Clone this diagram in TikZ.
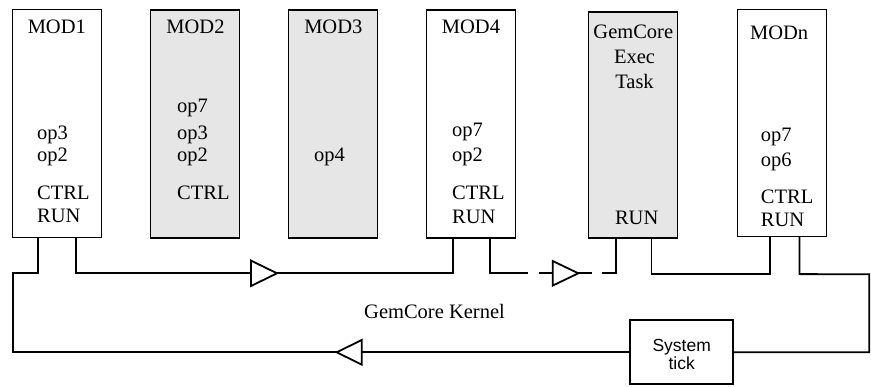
\documentclass[tikz,border=0pt]{standalone}
\usepackage{fontspec}
\setmainfont{Liberation Serif}
\newfontfamily\ticksans{Liberation Sans}
\definecolor{boxgray}{HTML}{E6E6E6}
\begin{document}
\begin{tikzpicture}[x=1pt,y=-1pt,
  wire/.style={line width=1.8pt,line join=miter},
  modbox/.style={draw,line width=1.8pt,minimum width=89pt,minimum height=228pt,anchor=north west,inner sep=0pt,outer sep=0pt},
  graybox/.style={modbox,fill=boxgray},
  lbl/.style={font=\fontsize{20.5}{24}\selectfont,inner sep=0pt,anchor=base west},
  clbl/.style={font=\fontsize{20.5}{24}\selectfont,inner sep=0pt,anchor=base},
  tri/.style={line width=1.8pt,fill=white,line join=miter},
  dashseg/.style={line width=1.8pt}]
\useasboundingbox (0,0) rectangle (871,387);
% boxes
\node[modbox] (m1) at (12.5,9.5) {};
\node[graybox] (m2) at (150.5,10) {};
\node[graybox] (m3) at (288.5,10) {};
\node[modbox] (m4) at (426.5,10) {};
\node[graybox,minimum height=226.5pt] (m5) at (588.5,11.8) {};
\node[modbox,minimum height=227pt] (m6) at (737.5,9.5) {};
\node[draw,line width=1.8pt,minimum width=103pt,minimum height=64pt,inner sep=0pt] (tick) at (681.7,352.3) {};
% texts
\node[clbl] (t1) at (56.8,33.3) {MOD1};
\node[lbl] (t1a) at (37,139.3) {op3};
\node[lbl] (t1b) at (37,162) {op2};
\node[lbl] (t1c) at (37,199.5) {CTRL};
\node[lbl] (t1d) at (37,223) {RUN};
\node[clbl] (t2) at (195.5,33.3) {MOD2};
\node[lbl] (t2a) at (177,112.5) {op7};
\node[lbl] (t2b) at (177,139.3) {op3};
\node[lbl] (t2c) at (177,162) {op2};
\node[lbl] (t2d) at (177,199.5) {CTRL};
\node[clbl] (t3) at (333.3,33.3) {MOD3};
\node[lbl] (t3a) at (314,162) {op4};
\node[clbl] (t4) at (471,33.3) {MOD4};
\node[lbl] (t4a) at (452,137) {op7};
\node[lbl] (t4b) at (452,161.7) {op2};
\node[lbl] (t4c) at (452,200) {CTRL};
\node[lbl] (t4d) at (452,224) {RUN};
\node[clbl] (t5a) at (633.3,38.3) {GemCore};
\node[clbl] (t5b) at (634.5,64) {Exec};
\node[clbl] (t5c) at (634.5,88.3) {Task};
\node[clbl] (t5d) at (636.7,225) {RUN};
\node[clbl] (t6) at (779.2,39.3) {MODn};
\node[lbl] (t6a) at (760.7,141.7) {op7};
\node[lbl] (t6b) at (760.7,166.7) {op6};
\node[lbl] (t6c) at (760.7,204) {CTRL};
\node[lbl] (t6d) at (760.7,226.7) {RUN};
\node[clbl] (kern) at (434.5,319) {GemCore Kernel};
\node[font=\ticksans\fontsize{17.5}{18.3}\selectfont,inner sep=0pt,anchor=base] (tk1) at (681.7,351.7) {System};
\node[font=\ticksans\fontsize{17.5}{18.3}\selectfont,inner sep=0pt,anchor=base] (tk2) at (681.7,370) {tick};
% connectors
\draw[wire] ([xshift=25.8pt]m1.south west) -- ++(0,35.8) -- (13.3,273.3) |- (tick.west);
\draw[wire] ([xshift=63.5pt]m1.south west) -- ++(0,35.8) -| ([xshift=26.2pt]m4.south west);
\draw[wire] ([xshift=63.5pt]m4.south west) -- ++(0,35.3) -- (528.3,273.3);
\draw[dashseg] (539.3,273.3) -- (552.7,273.3);
\draw[dashseg] (578.3,273.3) -- (591.7,273.3);
\draw[wire] (601.7,273.3) -| ([xshift=27.3pt]m5.south west);
\draw[wire] ([xshift=63pt]m5.south west) -- ++(0,36) -| ([xshift=32.5pt]m6.south west);
\draw[wire] ([xshift=62pt]m6.south west) -- ++(0,37.6) -- (869.2,274.3) |- (tick.east);
% triangles
\draw[tri] (251,260.6) -- (277,273.3) -- (251,286) -- cycle;
\draw[tri] (552.7,261) -- (578.3,273.3) -- (552.7,285.6) -- cycle;
\draw[tri] (361.7,340) -- (336.7,352.3) -- (361.7,364.6) -- cycle;
\end{tikzpicture}
\end{document}
